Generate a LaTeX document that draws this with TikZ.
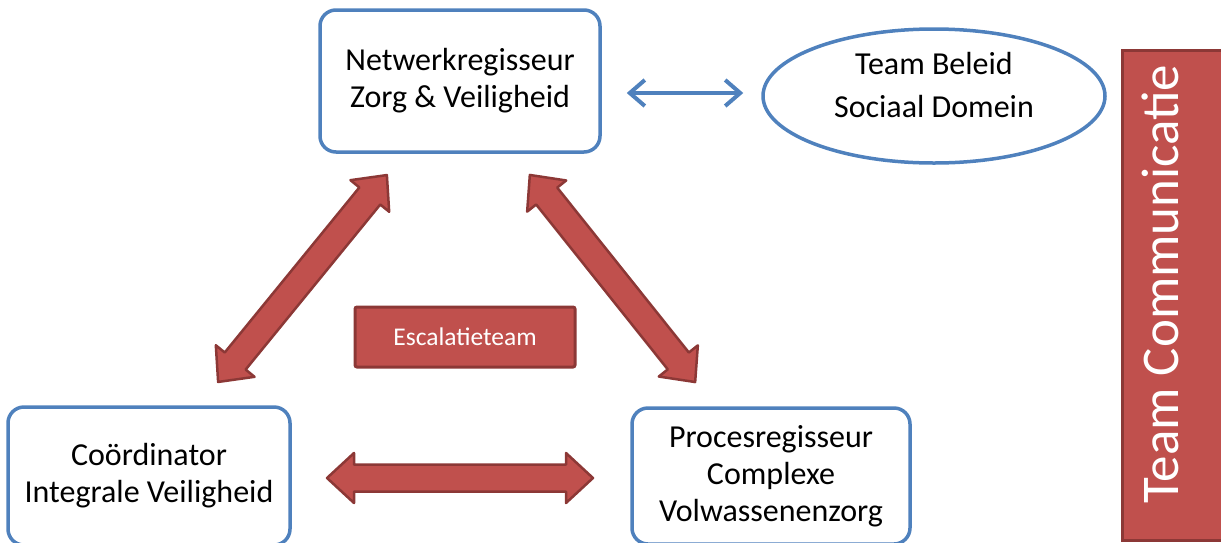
\documentclass[tikz,border=0pt]{standalone}
\usepackage{fontspec}
\setmainfont{Carlito}
\usetikzlibrary{shapes.geometric,arrows.meta,calc}
\definecolor{ofblue}{HTML}{4F81BD}
\definecolor{ofred}{HTML}{C0504D}
\definecolor{ofreddark}{HTML}{8C3836}
\begin{document}
\begin{tikzpicture}[x=1pt,y=-1pt,
  role/.style={draw=ofblue, line width=3.5pt, rounded corners=16pt, fill=white,
    align=center, inner sep=0pt, font=\fontsize{32}{37}\selectfont},
  blockline/.style={draw=ofreddark, fill=ofred, line width=2.5pt, line join=round},
  redbox/.style={draw=ofreddark, fill=ofred, line width=3pt, rounded corners=2pt,
    text=white, inner sep=0pt},
  bluelink/.style={draw=ofblue, line width=4pt,
    {Straight Barb[length=15pt,width=26pt]}-{Straight Barb[length=15pt,width=26pt]}},
  % double-headed block arrow of the given length, centred on the pic origin
  pics/blockarrow/.style={code={
    \pgfmathsetmacro\ha{#1/2}
    \path[blockline] (-\ha,0) -- (-\ha+27,25) -- (-\ha+27,13.5) -- (\ha-27,13.5)
      -- (\ha-27,25) -- (\ha,0) -- (\ha-27,-25) -- (\ha-27,-13.5)
      -- (-\ha+27,-13.5) -- (-\ha+27,-25) -- cycle;
  }}]
\useasboundingbox (0,0) rectangle (1221,542);
\clip (0,0) rectangle (1221,542);

% role boxes
\node[role, minimum width=280pt, minimum height=142pt] (net) at (460,81)
  {Netwerkregisseur\\Zorg \& Veiligheid};
\node[role, minimum width=282pt, minimum height=138pt] (coord) at (149,476)
  {Coördinator\\Integrale Veiligheid};
\node[role, minimum width=278pt, minimum height=136pt] (proc) at (771,476)
  {Procesregisseur\\Complexe\\Volwassenenzorg};

% policy team
\node[ellipse, draw=ofblue, line width=3.5pt, fill=white, minimum width=342pt,
  minimum height=134pt, inner sep=0pt] (beleid) at (934,96) {};
\node[align=center, inner sep=0pt, font=\fontsize{32}{43}\selectfont]
  (beleidtext) at (934,85) {Team Beleid\\Sociaal Domein};

% link between the network director and the policy team
\draw[bluelink] ($(net.east)+(25,12)$) -- ($(beleid.west)+(-18,-3)$);

% escalation team
\node[redbox, minimum width=220pt, minimum height=60pt,
  font=\fontsize{25.5}{30}\selectfont] (escal) at (465,337) {Escalatieteam};

% communication bar
\node[redbox, rounded corners=0pt, minimum width=108pt, minimum height=490pt]
  (commbar) at (1176,295) {};
\node[text=white, rotate=90, inner sep=0pt, font=\fontsize{53}{58}\selectfont]
  (commtext) at (1160,284) {Team Communicatie};

% block arrows between the three roles
\pic[rotate=50.8] (netcoord) at (302.5,278.5) {blockarrow=267};
\pic[rotate=-51.4] (netproc) at (612.5,278.5) {blockarrow=265};
\pic (coordproc) at (460,478) {blockarrow=266};
\end{tikzpicture}
\end{document}
